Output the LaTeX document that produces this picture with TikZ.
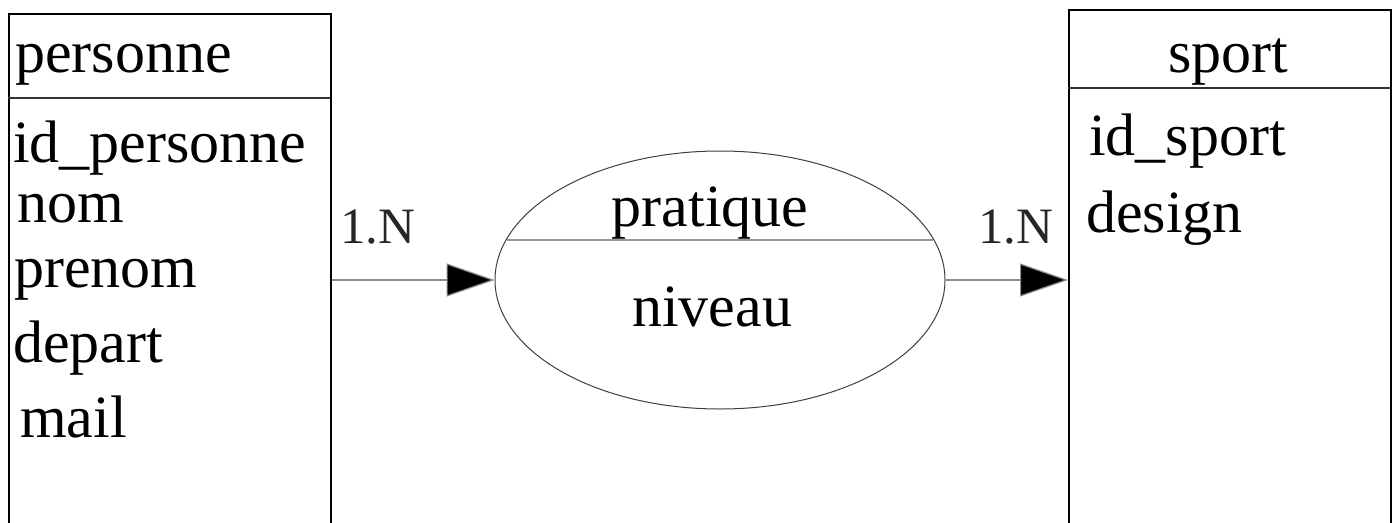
\documentclass[tikz,border=0pt]{standalone}
\usepackage{fontspec}
\setmainfont{Liberation Serif}
\usetikzlibrary{shapes.geometric,arrows.meta,calc}
\tikzset{
  entbox/.style={draw=black, line width=1.6pt, rectangle, inner sep=0pt, anchor=north west},
  divider/.style={draw=black!80, line width=1.4pt},
  txt/.style={inner sep=0pt, anchor=base west, font=\fontsize{60}{70}\selectfont},
  ctxt/.style={inner sep=0pt, anchor=base, font=\fontsize{60}{70}\selectfont},
  card/.style={inner sep=0pt, anchor=base west, font=\fontsize{51}{60}\selectfont, text=black!85},
  assoc/.style={draw=black!75, line width=1pt, ellipse, inner sep=0pt},
  conn/.style={draw=black!45, line width=1.2pt, -{Triangle[length=48pt,width=33pt,fill=black]}},
}
\begin{document}
\begin{tikzpicture}[x=1pt,y=-1pt]
\useasboundingbox (0,0) rectangle (1394,522);
\clip (0,0) rectangle (1394,522);
\fill[white] (0,0) rectangle (1394,522);
% left entity
\node[entbox, minimum width=322pt, minimum height=530pt] (pers) at (8,13) {};
\draw[divider] (8,98) coordinate (pl) -- (330,98) coordinate (pr);
\node[txt] (pname) at (15,72) {personne};
\node[txt] (p1) at (13,162) {id\_personne};
\node[txt] (p2) at (17,222) {nom};
\node[txt] (p3) at (14,287) {prenom};
\node[txt] (p4) at (13,362) {depart};
\node[txt] (p5) at (20,437) {mail};
% right entity
\node[entbox, minimum width=322pt, minimum height=530pt] (spt) at (1068,9) {};
\draw[divider] (1068,88) coordinate (sl) -- (1390,88) coordinate (sr);
\node[ctxt] (sname) at (1228,72) {sport};
\node[txt] (s1) at (1089,155) {id\_sport};
\node[txt] (s2) at (1086,232) {design};
% association
\node[assoc, minimum width=450pt, minimum height=258pt] (ass) at (720,280) {};
\draw[draw=black!40, line width=1.2pt] ($(ass.center)+(-213,-40)$) coordinate (al) -- ($(ass.center)+(213,-40)$) coordinate (ar);
\node[ctxt] (aname) at (710,226) {pratique};
\node[ctxt] (aattr) at (712,326) {niveau};
% connectors
\coordinate (lstart) at (pers.east |- ass.west);
\draw[conn] (lstart) -- (ass.west);
\coordinate (rend) at (spt.west |- ass.east);
\draw[conn] (ass.east) -- (rend);
\node[card] (c1) at (340,243) {1.N};
\node[card] (c2) at (978,243) {1.N};
\end{tikzpicture}
\end{document}
